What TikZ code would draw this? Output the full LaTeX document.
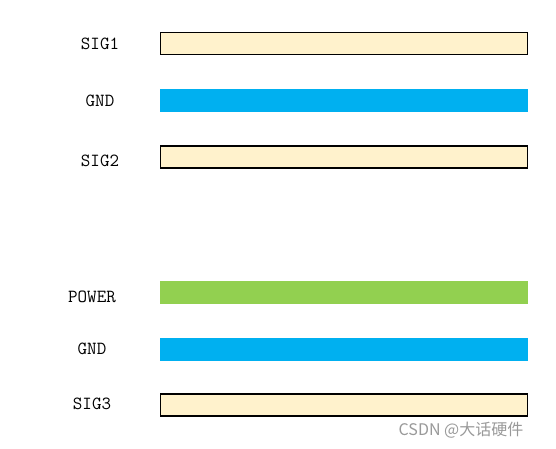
\documentclass[tikz,border=0pt]{standalone}
\usepackage{fontspec}
\newfontfamily\cjk{Noto Sans CJK SC}
\usepackage{xcolor}
\usetikzlibrary{positioning}
\definecolor{sigfill}{HTML}{FFF2CC}
\definecolor{gndblue}{HTML}{00B0F0}
\definecolor{pwrgreen}{HTML}{92D050}

\begin{document}
\begin{tikzpicture}[x=1pt, y=-1pt,
    every node/.style={font=\ttfamily\fontsize{18.5}{18.5}\selectfont},
    layer/.style={minimum width=367pt, minimum height=22pt, inner sep=0pt, anchor=west},
    siglayer/.style={layer, draw=black, line width=1.2pt, fill=sigfill},
    gndlayer/.style={layer, draw=gndblue, fill=gndblue},
    pwrlayer/.style={layer, draw=pwrgreen, fill=pwrgreen}]
  \useasboundingbox (0,0) rectangle (556,448);
  % upper stack
  \node[siglayer] (sig1) at (160,43.5) {};
  \node[gndlayer] (gnd1) at (160,100) {};
  \node[siglayer] (sig2) at (160,157) {};
  \node (sig1lbl) at (100,44) {SIG1};
  \node (gnd1lbl) at (100,101) {GND};
  \node (sig2lbl) at (100,161) {SIG2};
  % lower stack
  \node[pwrlayer] (pwr) at (160,292.5) {};
  \node[gndlayer] (gnd2) at (160,349) {};
  \node[siglayer] (sig3) at (160,405) {};
  \node (pwrlbl) at (92,297) {POWER};
  \node (gnd2lbl) at (92,349) {GND};
  \node (sig3lbl) at (92,404) {SIG3};
  \node[font=\cjk\fontsize{16}{16}\selectfont, text=gray!80] (mark) at (461,430) {CSDN @大话硬件};
\end{tikzpicture}
\end{document}
